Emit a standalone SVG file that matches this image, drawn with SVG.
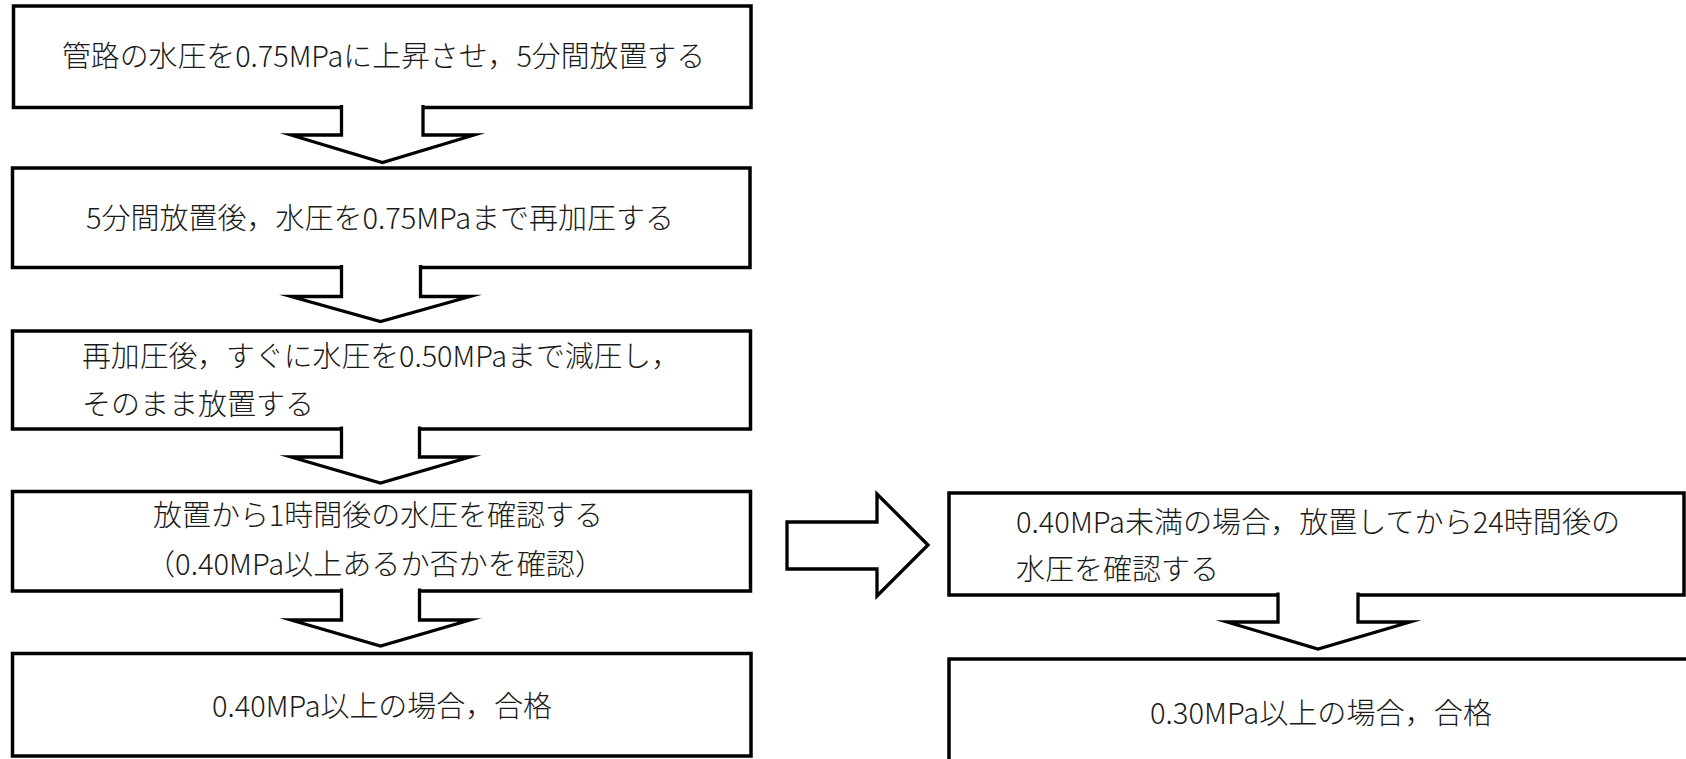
<svg xmlns="http://www.w3.org/2000/svg" width="1686" height="759" viewBox="0 0 1686 759">
  <style>
    .box { fill: #ffffff; stroke: #000000; stroke-width: 3.5; }
    .arrow { fill: #ffffff; stroke: #000000; stroke-width: 3.3; stroke-linejoin: miter; stroke-miterlimit: 10; }
    .t { font-family: "Noto Sans CJK JP", "Noto Sans CJK SC", sans-serif; font-size: 29px; font-weight: 300; fill: #1a1a1a; }
    .c { text-anchor: middle; }
  </style>
  <rect x="0" y="0" width="1686" height="759" fill="#ffffff"/>

  <g id="node-1">
    <rect class="box" x="13.5" y="6" width="737.5" height="101.5"/>
    <text class="t" x="62" y="66.5" textLength="643" lengthAdjust="spacingAndGlyphs">管路の水圧を0.75MPaに上昇させ，5分間放置する</text>
  </g>
  <g id="node-2">
    <rect class="box" x="12.5" y="168" width="737.5" height="99.5"/>
    <text class="t" x="86" y="229" textLength="588" lengthAdjust="spacingAndGlyphs">5分間放置後，水圧を0.75MPaまで再加圧する</text>
  </g>
  <g id="node-3">
    <rect class="box" x="12.5" y="331" width="738" height="98"/>
    <text class="t" x="82" y="366.5" textLength="598" lengthAdjust="spacingAndGlyphs">再加圧後，すぐに水圧を0.50MPaまで減圧し，</text>
    <text class="t" x="82" y="414.5">そのまま放置する</text>
  </g>
  <g id="node-4">
    <rect class="box" x="12.5" y="491.5" width="738" height="99.5"/>
    <text class="t c" x="378" y="526" textLength="450" lengthAdjust="spacingAndGlyphs">放置から1時間後の水圧を確認する</text>
    <text class="t c" x="375" y="575" textLength="458" lengthAdjust="spacingAndGlyphs">（0.40MPa以上あるか否かを確認）</text>
  </g>
  <g id="node-5">
    <rect class="box" x="12.5" y="653.5" width="738.5" height="102.5"/>
    <text class="t c" x="382" y="717" textLength="340" lengthAdjust="spacingAndGlyphs">0.40MPa以上の場合，合格</text>
  </g>
  <g id="node-6">
    <rect class="box" x="949" y="493" width="735" height="102"/>
    <text class="t" x="1016" y="532.5" textLength="604" lengthAdjust="spacingAndGlyphs">0.40MPa未満の場合，放置してから24時間後の</text>
    <text class="t" x="1016" y="580">水圧を確認する</text>
  </g>
  <g id="node-7">
    <rect class="box" x="949" y="659" width="800" height="200"/>
    <text class="t c" x="1321" y="724" textLength="342" lengthAdjust="spacingAndGlyphs">0.30MPa以上の場合，合格</text>
  </g>

  <g id="connectors">
    <path class="arrow" d="M341.5,105 V135 H291 L382.5,162.5 L474,135 H423 V105"/>
    <path class="arrow" d="M341.5,265 V296.5 H291 L380.5,321.5 L470,296.5 H420.5 V265"/>
    <path class="arrow" d="M341.5,426.5 V457 H291 L380.5,483 L470,457 H419.5 V426.5"/>
    <path class="arrow" d="M341.5,588.5 V620 H291 L380.5,646 L470,620 H419.5 V588.5"/>
    <path class="arrow" d="M1278,592.5 V622 H1227 L1318,649 L1410,622 H1358 V592.5"/>
    <polygon class="arrow" points="787,522 877,522 877,494 928,545 877,596 877,569 787,569"/>
  </g>
</svg>
